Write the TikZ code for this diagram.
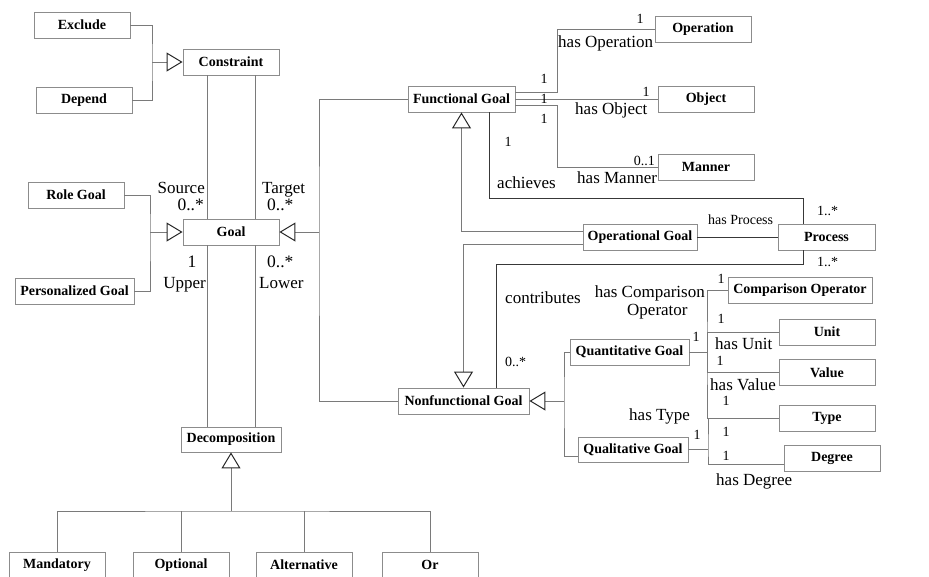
\documentclass[tikz,border=0pt]{standalone}
\usepackage{fontspec}
\setmainfont{Liberation Serif}
\usetikzlibrary{arrows.meta}

\definecolor{boxline}{HTML}{8C8C8C}
\definecolor{wire}{HTML}{7A7A7A}
\definecolor{darkwire}{HTML}{383838}

\begin{document}
\begin{tikzpicture}[x=1pt,y=-1pt,
  cls/.style={draw=boxline, line width=0.9pt, fill=white, text=black,
    font=\fontsize{14}{14}\selectfont\bfseries, minimum height=26pt, inner sep=0pt},
  link/.style={draw=wire, line width=0.9pt},
  strong/.style={draw=darkwire, line width=0.9pt},
  gen/.style={link, -{Triangle[open, length=16pt, width=19pt, line width=1pt, color=black!85]}},
  lab/.style={font=\fontsize{17}{17}\selectfont, inner sep=0pt, text=black},
  mult/.style={font=\fontsize{14}{14}\selectfont, inner sep=0pt, text=black},
  bigmult/.style={font=\fontsize{17.5}{17.5}\selectfont, inner sep=0pt, text=black}]

\fill[white] (0,0) rectangle (929,576);
\useasboundingbox (0,0) rectangle (929,576);

% ---- classes ----
\node[cls, minimum width=96pt] (exclude) at (82,25) {Exclude};
\node[cls, minimum width=96pt] (depend) at (84,100) {Depend};
\node[cls, minimum width=96pt] (constraint) at (231,62) {Constraint};
\node[cls, minimum width=96pt] (rolegoal) at (76,195) {Role Goal};
\node[cls, minimum width=119pt] (persgoal) at (74.5,291) {Personalized Goal};
\node[cls, minimum width=96pt] (goal) at (231,232) {Goal};
\node[cls, minimum width=100pt, minimum height=25pt] (decomp) at (231,439.5) {Decomposition};
\node[cls, minimum width=96pt] (mandatory) at (57,565) {Mandatory};
\node[cls, minimum width=96pt] (optional) at (181,565) {Optional};
\node[cls, minimum width=96pt] (alternative) at (304,565) {Alternative};
\node[cls, minimum width=96pt] (orbox) at (430,565) {Or};
\node[cls, minimum width=107pt] (fgoal) at (461.5,99) {Functional Goal};
\node[cls, minimum width=96pt] (operation) at (703,29) {Operation};
\node[cls, minimum width=96pt] (object) at (706,99) {Object};
\node[cls, minimum width=96pt] (manner) at (706,167) {Manner};
\node[cls, minimum width=114pt] (opgoal) at (640,237) {Operational Goal};
\node[cls, minimum width=97pt] (process) at (826.5,237) {Process};
\node[cls, minimum width=131pt] (nfgoal) at (463.5,401) {Nonfunctional Goal};
\node[cls, minimum width=119pt] (quant) at (629.5,352) {Quantitative Goal};
\node[cls, minimum width=110pt, minimum height=25pt] (qual) at (633,449.5) {Qualitative Goal};
\node[cls, minimum width=144pt] (compop) at (800,290) {Comparison Operator};
\node[cls, minimum width=96pt] (unit) at (827,332) {Unit};
\node[cls, minimum width=96pt] (value) at (827,372.5) {Value};
\node[cls, minimum width=96pt] (type) at (827,418) {Type};
\node[cls, minimum width=96pt] (degree) at (832,458) {Degree};

% ---- generalizations ----
\coordinate (jcons) at (152,62);
\draw[link] (exclude.east) -| (jcons) |- (depend.east);
\draw[gen] (jcons) -- (constraint.west);

\coordinate (jgoal) at (150,232);
\draw[link] (rolegoal.east) -| (jgoal) |- (persgoal.east);
\draw[gen] (jgoal) -- (goal.west);

\coordinate (jsub) at (319,232);
\draw[link] (fgoal.west) -| (jsub) |- (nfgoal.west);
\draw[gen] (jsub) -- (goal.east);

\coordinate (jdec) at (231,511);
\draw[gen] (jdec) -- (decomp.south);
\draw[link] (mandatory.north) |- (jdec) -| (orbox.north);
\draw[link] (optional.north) -- (optional.north |- jdec);
\draw[link] (alternative.north) -- (alternative.north |- jdec);

\draw[gen] ([yshift=6pt]opgoal.west) -| (fgoal.south);
\draw[gen] ([yshift=-7pt]opgoal.west) -| (nfgoal.north);

\coordinate (jnf) at (564,401);
\draw[link] (quant.west) -| (jnf) |- ([yshift=-6.5pt]qual.west);
\draw[gen] (jnf) -- (nfgoal.east);

% ---- associations ----
\draw[link] ([xshift=-24pt]constraint.south) -- ([xshift=-24pt]goal.north);
\draw[link] ([xshift=24pt]constraint.south) -- ([xshift=24pt]goal.north);
\draw[link] ([xshift=-24pt]goal.south) -- ([xshift=-24pt]decomp.north);
\draw[link] ([xshift=24pt]goal.south) -- ([xshift=24pt]decomp.north);

\coordinate (jop) at (557,29);
\coordinate (jman) at (557,167);
\draw[link] ([yshift=7pt]fgoal.east) -| (jop) -- (operation.west);
\draw[link] (fgoal.east) -- (object.west);
\draw[link] ([yshift=-6pt]fgoal.east) -| (jman) -- (manner.west);

\draw[strong] (opgoal.east) -- (process.west);
\coordinate (jach) at (803,198);
\draw[strong] ([xshift=27.5pt]fgoal.south) |- (jach) -- (jach |- process.north);
\coordinate (jcon) at (496,264);
\draw[strong] (process.south -| jach) |- (jcon) -- (jcon |- nfgoal.north);

\coordinate (jqn) at (707,352);
\draw[link] (quant.east) -- (jqn);
\draw[link] (compop.west) -| (jqn) |- (type.west);
\draw[link] (unit.west) -| (jqn);
\draw[link] (value.west) -| (jqn);

\coordinate (jql) at (708,449.5);
\draw[link] (qual.east) -- (jql);
\draw[link] (type.west) -| (jql) |- ([yshift=-6pt]degree.west);

% ---- role names and multiplicities ----
\node[lab, anchor=base east] (lsource) at (205,193) {Source};
\node[bigmult, anchor=base east] (msource) at (204,210) {0..*};
\node[lab, anchor=base west] (ltarget) at (262,193) {Target};
\node[bigmult, anchor=base west] (mtarget) at (267,210) {0..*};
\node[bigmult, anchor=base] (mupper) at (192,267) {1};
\node[lab, anchor=base east] (lupper) at (206,288) {Upper};
\node[bigmult, anchor=base west] (mlower) at (267,267) {0..*};
\node[lab, anchor=base west] (llower) at (259,288) {Lower};

\node[lab, anchor=base west] (lhasop) at (558,47) {has Operation};
\node[mult, anchor=base] (mop) at (640,23) {1};
\node[mult, anchor=base] (mfg1) at (544,83) {1};
\node[mult, anchor=base] (mfg2) at (544,103) {1};
\node[mult, anchor=base] (mfg3) at (544,123) {1};
\node[lab, anchor=base west] (lhasobj) at (575,114) {has Object};
\node[mult, anchor=base] (mobj) at (646,96) {1};
\node[mult, anchor=base east] (mman) at (655,165) {0..1};
\node[lab, anchor=base west] (lhasman) at (577,183) {has Manner};

\node[mult, anchor=base] (mach) at (508,146) {1};
\node[lab, anchor=base west] (lach) at (497,188) {achieves};
\node[mult, anchor=base west] (mproc1) at (817,215) {1..*};
\node[mult, anchor=base west] (lhasproc) at (708,224) {has Process};
\node[mult, anchor=base west] (mproc2) at (817,266) {1..*};
\node[lab, anchor=base west] (lcontrib) at (505,303) {contributes};
\node[mult, anchor=base west] (mnfg) at (505,366) {0..*};

\node[lab, anchor=base east] (lhascmp) at (705,297) {has Comparison};
\node[lab, anchor=base west] (lcmpop) at (627,315) {Operator};
\node[mult, anchor=base] (mcmp) at (721,283) {1};
\node[mult, anchor=base] (munit) at (721,323) {1};
\node[lab, anchor=base west] (lhasunit) at (715,349) {has Unit};
\node[mult, anchor=base] (mval) at (720,365) {1};
\node[lab, anchor=base west] (lhasval) at (710,390) {has Value};
\node[mult, anchor=base] (mtype1) at (726,405) {1};
\node[lab, anchor=base west] (lhastype) at (629,420) {has Type};
\node[mult, anchor=base] (mtype2) at (726,436) {1};
\node[mult, anchor=base] (mdeg) at (726,460) {1};
\node[mult, anchor=base] (mqual) at (697,439) {1};
\node[mult, anchor=base] (mquant) at (696,341) {1};
\node[lab, anchor=base west] (lhasdeg) at (716,485) {has Degree};
\end{tikzpicture}
\end{document}
